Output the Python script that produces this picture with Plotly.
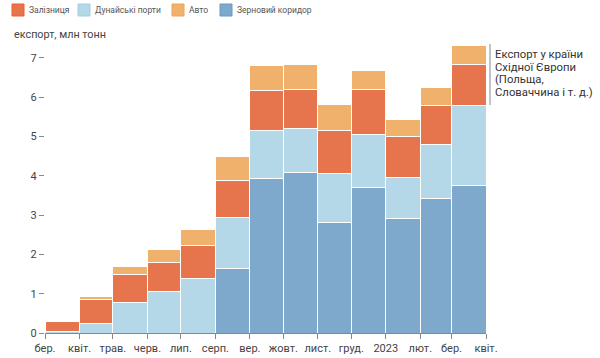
import plotly.graph_objects as go
import pandas as pd

months = ["2022-03", "2022-04", "2022-05", "2022-06", "2022-07", "2022-08", "2022-09",
          "2022-10", "2022-11", "2022-12", "2023-01", "2023-02", "2023-03"]
grain = [0, 0, 0, 0, 0, 1.65, 3.93, 4.07, 2.81, 3.70, 2.92, 3.43, 3.74]
danube = [0.04, 0.25, 0.78, 1.06, 1.39, 1.29, 1.21, 1.14, 1.24, 1.35, 1.03, 1.35, 2.04]
rail = [0.25, 0.60, 0.70, 0.72, 0.84, 0.94, 1.02, 0.97, 1.11, 1.14, 1.05, 1.01, 1.05]
auto = [0.02, 0.08, 0.21, 0.35, 0.41, 0.61, 0.65, 0.64, 0.66, 0.49, 0.42, 0.46, 0.49]

tick_dates = ["2022-03-01", "2022-04-01", "2022-05-01", "2022-06-01", "2022-07-01", "2022-08-01",
              "2022-09-01", "2022-10-01", "2022-11-01", "2022-12-01", "2023-01-01", "2023-02-01",
              "2023-03-01", "2023-04-01"]
tick_labels = ["бер.", "квіт.", "трав.", "черв.", "лип.", "серп.", "вер.", "жовт.", "лист.",
               "груд.", "2023", "лют.", "бер.", "квіт."]

legend_names = ["Залізниця", "Дунайські порти", "Авто", "Зерновий коридор"]
note_lines = ["Експорт у країни", "Східної Європи", "(Польща,", "Словаччина і т. д.)"]

starts = pd.to_datetime([m + "-01" for m in months])
ends = starts + pd.offsets.MonthBegin(1)
mids = starts + (ends - starts) / 2
widths = [(e - s).total_seconds() * 1000 for s, e in zip(starts, ends)]

colors = {
    "Зерновий коридор": ("#7fa9cc", "#6a98c0"),
    "Дунайські порти": ("#b4d8e8", "#a3cde0"),
    "Залізниця": ("#e6754e", "#e8622a"),
    "Авто": ("#f0b16c", "#eea55a"),
}
series = [("Зерновий коридор", grain), ("Дунайські порти", danube),
          ("Залізниця", rail), ("Авто", auto)]

L, W, T, H = 45, 441, 38, 295
def px(x):
    return (x - L) / W
def py(y):
    return 1 + (T - y) / H

FONT = "Roboto, Inter, sans-serif"

fig = go.Figure()
for name, vals in series:
    fig.add_trace(go.Bar(
        x=mids, y=vals, width=widths, name=name, showlegend=False,
        marker=dict(color=colors[name][0], line=dict(color="white", width=1)),
    ))

fig.update_layout(
    barmode="stack",
    width=600, height=358,
    margin=dict(l=L, r=600 - L - W, t=T, b=358 - T - H, autoexpand=False),
    paper_bgcolor="white", plot_bgcolor="white",
    font=dict(family=FONT, size=11, color="#444"),
    showlegend=False,
    xaxis=dict(type="date", range=["2022-03-01", "2023-04-01"],
               tickvals=tick_dates, ticktext=tick_labels,
               ticks="outside", ticklen=5, tickcolor="#888",
               showline=True, linecolor="#888", linewidth=1,
               showgrid=False, zeroline=False,
               tickfont=dict(size=11, color="#444")),
    yaxis=dict(range=[0, 7.5], tickvals=list(range(8)),
               ticks="outside", ticklen=5, tickcolor="#888",
               showline=False, showgrid=False, zeroline=False,
               tickfont=dict(size=11, color="#444")),
)

# manual legend
leg_x = [12, 78, 172, 220]
for name, x0 in zip(legend_names, leg_x):
    fill, edge = colors[name]
    fig.add_shape(type="rect", xref="paper", yref="paper",
                  x0=px(x0), x1=px(x0 + 12), y0=py(16), y1=py(4),
                  fillcolor=fill, line=dict(color=edge, width=1))
    fig.add_annotation(xref="paper", yref="paper", x=px(x0 + 15), y=py(10),
                       xanchor="left", yanchor="middle", text=name, showarrow=False,
                       font=dict(size=8.5, color="#555"))

fig.add_annotation(xref="paper", yref="paper", x=px(12), y=py(34), xanchor="left", yanchor="middle",
                   text="експорт, млн тонн", showarrow=False, font=dict(size=10.8, color="#444"))

for i, line in enumerate(note_lines):
    fig.add_annotation(xref="paper", yref="paper", x=px(493), y=py(54.5 + 12.6 * i),
                       xanchor="left", yanchor="middle", align="left", showarrow=False,
                       text=line, font=dict(size=11.3, color="#333"))
fig.add_shape(type="line", xref="paper", yref="paper", x0=px(490), x1=px(490), y0=py(44), y1=py(105),
              line=dict(color="#888", width=1))

fig.write_html("out.html", config={"displayModeBar": False},
               post_script="document.body.style.margin='0';")
